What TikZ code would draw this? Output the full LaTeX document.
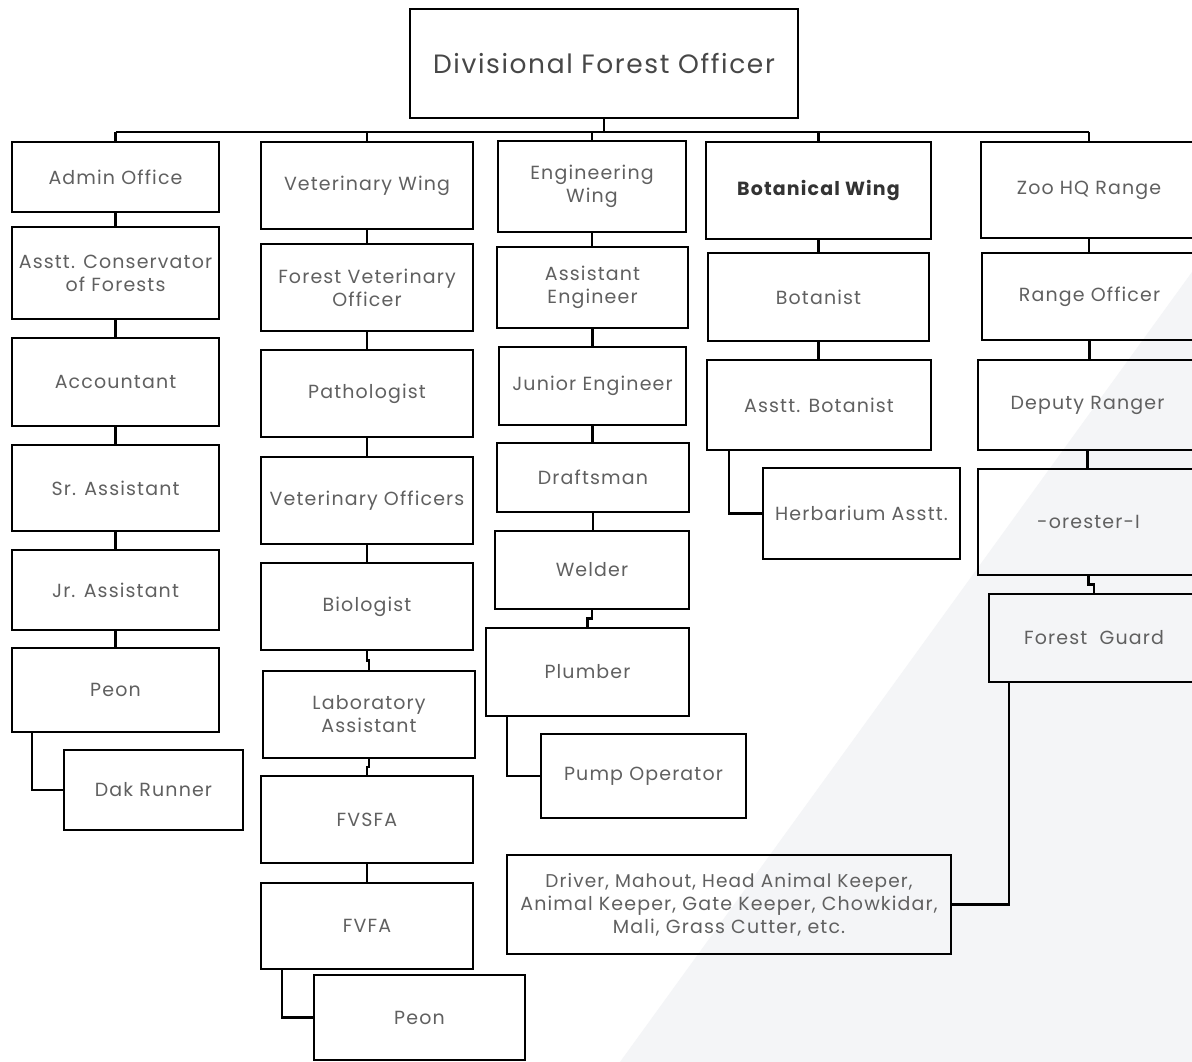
\documentclass[tikz,border=0pt]{standalone}
\usepackage{fontspec}
\setmainfont{Poppins}[LetterSpace=6]
\usetikzlibrary{calc}
\definecolor{txt}{HTML}{606060}
\definecolor{bgtri}{HTML}{F4F5F7}
\tikzset{
  box/.style={draw=black, line width=2.5pt, inner sep=2pt, align=center,
    font=\fontsize{19}{23}\selectfont, text=txt},
  link/.style={draw=black, line width=2.5pt},
}
\newcommand{\bx}[6]{\node[box, minimum width={(#4-#2)*1pt}, minimum height={(#5-#3)*1pt}]
  (#1) at ({(#2+#4)/2},{-(#3+#5)/2}) {#6};}
% straight vertical link
\newcommand{\vl}[2]{\draw[link] (#1.south) -- (#1.south |- #2.north);}
% vertical link with a small jog
\newcommand{\vj}[2]{\draw[link] (#1.south) |- ($(#1.south)!.5!(#2.north)$) -| (#2.north);}
\newcommand{\sidelink}[3]{\draw[link] ($(#1.south west)+(#3,0)$) |- (#2.west);}
\begin{document}
\begin{tikzpicture}[x=1pt,y=1pt]
\useasboundingbox (0,0) rectangle (1192,-1062);
\fill[white] (0,0) rectangle (1192,-1062);
\fill[bgtri] (620,-1062) -- (1192,-272) -- (1192,-1062) -- cycle;

% top
\bx{dfo}{410}{9}{798}{118}{\fontsize{26.5}{31}\selectfont\color{black!72}Divisional Forest Officer}

% column 1
\bx{admin}{12}{142}{219}{212}{Admin Office}
\bx{acf}{12}{227}{219}{319}{Asstt. Conservator\\of Forests}
\bx{acct}{12}{338}{219}{426}{Accountant}
\bx{sra}{12}{445}{219}{531}{Sr. Assistant}
\bx{jra}{12}{550}{219}{630}{Jr. Assistant}
\bx{peona}{12}{648}{219}{732}{Peon}
\bx{dak}{64}{750}{243}{830}{Dak Runner}

% column 2
\bx{vet}{261}{142}{473}{229}{Veterinary Wing}
\bx{fvo}{261}{244}{473}{331}{Forest Veterinary\\Officer}
\bx{path}{261}{350}{473}{437}{Pathologist}
\bx{vo}{261}{457}{473}{544}{Veterinary Officers}
\bx{bio}{261}{563}{473}{650}{Biologist}
\bx{lab}{263}{671}{475}{758}{Laboratory\\Assistant}
\bx{fvsfa}{261}{776}{473}{863}{FVSFA}
\bx{fvfa}{261}{883}{473}{969}{FVFA}
\bx{peonb}{314}{975}{525}{1060}{Peon}

% column 3
\bx{eng}{498}{141}{686}{232}{Engineering\\Wing}
\bx{ae}{497}{247}{688}{328}{Assistant\\Engineer}
\bx{je}{499}{347}{686}{425}{Junior Engineer}
\bx{draft}{497}{443}{689}{512}{Draftsman}
\bx{weld}{495}{531}{689}{609}{Welder}
\bx{plumb}{486}{628}{689}{716}{Plumber}
\bx{pump}{541}{734}{746}{818}{Pump Operator}

% column 4
\bx{bot}{706}{142}{931}{239}{\bfseries\color{black!80}Botanical Wing}
\bx{botanist}{708}{253}{929}{341}{Botanist}
\bx{abot}{707}{360}{931}{450}{Asstt. Botanist}
\bx{herb}{763}{468}{960}{559}{Herbarium Asstt.}

% column 5
\bx{zoo}{981}{142}{1197}{238}{Zoo HQ Range}
\bx{ro}{982}{253}{1197}{340}{Range Officer}
\bx{dr}{978}{360}{1197}{450}{Deputy Ranger}
\bx{forester}{978}{469}{1199}{575}{-orester-I}
\bx{fg}{989}{594}{1199}{682}{Forest \ Guard}
\bx{driver}{507}{855}{951}{954}{\fontsize{18.5}{22.5}\selectfont Driver, Mahout, Head Animal Keeper,\\Animal Keeper, Gate Keeper, Chowkidar,\\Mali, Grass Cutter, etc.}

% bus
\coordinate (bus) at (0,-132);
\draw[link] (dfo.south) -- (dfo.south |- bus);
\draw[link] (admin.north |- bus) -- (zoo.north |- bus);
\foreach \n in {admin,vet,eng,bot,zoo} \draw[link] (\n.north |- bus) -- (\n.north);

% column links
\vl{admin}{acf}\vl{acf}{acct}\vl{acct}{sra}\vl{sra}{jra}\vl{jra}{peona}
\vl{vet}{fvo}\vl{fvo}{path}\vl{path}{vo}\vl{vo}{bio}\vj{bio}{lab}\vj{lab}{fvsfa}\vl{fvsfa}{fvfa}
\vl{eng}{ae}\vl{ae}{je}\vl{je}{draft}\vl{draft}{weld}\vj{weld}{plumb}
\vl{bot}{botanist}\vl{botanist}{abot}
\vl{zoo}{ro}\vl{ro}{dr}\vl{dr}{forester}\vj{forester}{fg}

% side links
\sidelink{peona}{dak}{21}
\sidelink{fvfa}{peonb}{22}
\sidelink{plumb}{pump}{22}
\sidelink{abot}{herb}{23}
\draw[link] ($(fg.south west)+(21,0)$) |- (driver.east);
\end{tikzpicture}
\end{document}
